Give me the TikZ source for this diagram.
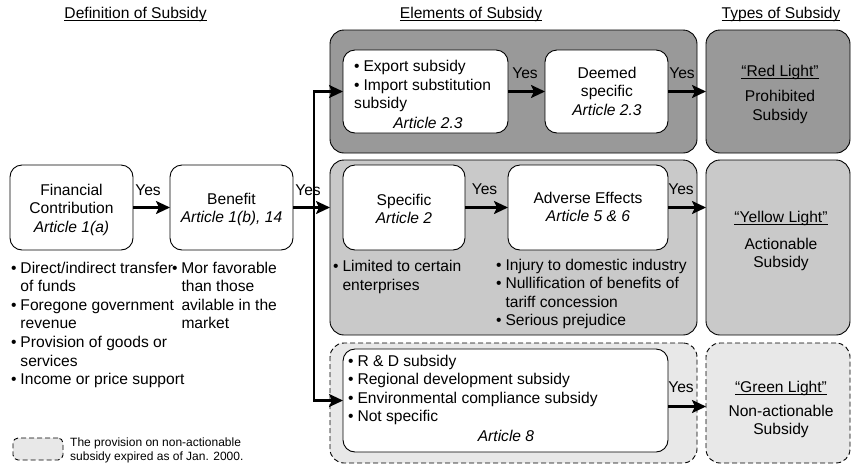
\documentclass[tikz,border=0pt]{standalone}
\usepackage{fontspec}
\setmainfont{Liberation Sans}
\usetikzlibrary{arrows.meta,calc}
\newcommand\bul{\makebox[9.3pt][l]{\textbullet}}
\newcommand\hng{\hspace*{9.3pt}}
\newsavebox\ulbox
\newcommand\ulin[1]{\sbox\ulbox{#1}\rlap{\rule[-2.2pt]{\wd\ulbox}{0.7pt}}\usebox\ulbox}
\definecolor{darkg}{gray}{0.6}
\definecolor{midg}{gray}{0.79}
\definecolor{lightg}{gray}{0.91}
\begin{document}
\begin{tikzpicture}[x=1pt,y=-1pt,
  font=\fontsize{15.6}{18.6}\selectfont,
  grp/.style={draw, line width=0.9pt, rounded corners=14pt, inner sep=0pt, outer sep=0pt},
  inbox/.style={draw, fill=white, line width=0.9pt, rounded corners=12pt, inner sep=0pt, outer sep=0pt},
  dsh/.style={dash pattern=on 5pt off 3pt},
  arr/.style={line width=2.2pt, -{Stealth[length=14pt,width=13pt,inset=3pt]}},
  txt/.style={inner sep=0pt, anchor=base, align=center},
  lst/.style={inner sep=0pt, anchor=base west, align=left},
  yes/.style={inner sep=0pt, anchor=base}]
\useasboundingbox (0,0) rectangle (852,467);

% headers
\node[yes] (h1) at (135.6,18) {\ulin{Definition of Subsidy}};
\node[yes] (h2) at (471,18) {\ulin{Elements of Subsidy}};
\node[yes] (h3) at (781,18) {\ulin{Types of Subsidy}};

% groups
\node[grp, fill=darkg, minimum width=367pt, minimum height=123pt] (g1) at (513.5,91.5) {};
\node[grp, fill=darkg, minimum width=144pt, minimum height=123pt] (red) at (778,91.5) {};
\node[grp, fill=midg, minimum width=367pt, minimum height=175pt] (g2) at (513.5,247.5) {};
\node[grp, fill=midg, minimum width=144pt, minimum height=175pt] (yel) at (778,247.5) {};
\node[grp, dsh, fill=lightg, minimum width=367pt, minimum height=120pt] (g3) at (513.5,403) {};
\node[grp, dsh, fill=lightg, minimum width=144pt, minimum height=120pt] (grn) at (778,403) {};

% inner boxes
\node[inbox, minimum width=165pt, minimum height=83pt] (exp) at (425.5,91.5) {};
\node[inbox, minimum width=123pt, minimum height=83pt] (deem) at (606.5,91.5) {};
\node[inbox, minimum width=122pt, minimum height=85pt] (spec) at (404,207.5) {};
\node[inbox, minimum width=160pt, minimum height=85pt] (adv) at (588,207.5) {};
\node[inbox, minimum width=325pt, minimum height=103pt] (rd) at (505.5,400.5) {};
\node[inbox, minimum width=123pt, minimum height=85pt] (fc) at (71.5,207.5) {};
\node[inbox, minimum width=123pt, minimum height=85pt] (ben) at (231.5,207.5) {};

% box texts (anchor = baseline of last line)
\node[txt] (fct) at (71.5,232.2) {Financial\\Contribution\\\textit{Article 1(a)}};
\node[txt] (bent) at (231.5,222.6) {Benefit\\\textit{Article 1(b), 14}};
\node[txt] (spect) at (404,223.6) {Specific\\\textit{Article 2}};
\node[txt] (advt) at (588,221.6) {Adverse Effects\\\textit{Article 5 \& 6}};
\node[txt] (deemt) at (607,115.2) {Deemed\\specific\\\textit{Article 2.3}};
\node[lst] (expt) at (354,108.7) {\bul Export subsidy\\\bul Import substitution\\subsidy};
\node[txt] (expa) at (428,128) {\textit{Article 2.3}};
\node[lst] (rdt) at (348,421.8) {\bul R \& D subsidy\\\bul Regional development subsidy\\\bul Environmental compliance subsidy\\\bul Not specific};
\node[txt] (rda) at (506,441) {\textit{Article 8}};

% type texts
\node[txt] (r1) at (780,76) {\ulin{“Red Light”}};
\node[txt] (r2) at (780,120.1) {Prohibited\\Subsidy};
\node[txt] (y1t) at (781,222.7) {\ulin{“Yellow Light”}};
\node[txt] (y2t) at (781,267.6) {Actionable\\Subsidy};
\node[txt] (gr1) at (781,392) {\ulin{“Green Light”}};
\node[txt] (gr2) at (781,434.6) {Non-actionable\\Subsidy};

% lists
\node[lst] (fcl) at (11,384.6) {\bul Direct/indirect transfer\\\hng of funds\\\bul Foregone government\\\hng revenue\\\bul Provision of goods or\\\hng services\\\bul Income or price support};
\node[lst] (benl) at (172,328.8) {\bul Mor favorable\\\hng than those\\\hng avilable in the\\\hng market};
\node[lst] (specl) at (333,290.1) {\bul Limited to certain\\\hng enterprises};
\node[lst] (advl) at (496,325.8) {\bul Injury to domestic industry\\\bul Nullification of benefits of\\\hng tariff concession\\\bul Serious prejudice};

% connectors
\coordinate (jn) at (314,207.5);
\coordinate (rde) at ($(rd.east)+(0,6)$);
\draw[arr] (jn) |- (exp.west);
\draw[arr] (jn) |- (rd.west);
\draw[arr] (fc) -- (ben);
\draw[arr] (ben.east) -- (ben.east -| g2.west);
\draw[arr] (exp) -- (deem);
\draw[arr] (deem) -- (red);
\draw[arr] (spec) -- (adv);
\draw[arr] (adv.east) -- (adv.east -| yel.west);
\draw[arr] (rde) -- (rde -| grn.west);

% yes labels
\node[yes] (ya) at (148,195) {Yes};
\node[yes] (yb) at (308,195) {Yes};
\node[yes] (yc) at (525,78) {Yes};
\node[yes] (yd) at (682,78) {Yes};
\node[yes] (ye) at (484.5,194) {Yes};
\node[yes] (yf) at (681,194) {Yes};
\node[yes] (yg) at (681,392) {Yes};

% legend
\node[draw, dsh, line width=0.9pt, fill=lightg, rounded corners=5pt, minimum width=50pt, minimum height=22pt, inner sep=0pt] (leg) at (38,449) {};
\node[lst, font=\fontsize{12}{14}\selectfont] (legt) at (70,460.7) {The provision on non-actionable\\subsidy expired as of Jan. 2000.};
\end{tikzpicture}
\end{document}
